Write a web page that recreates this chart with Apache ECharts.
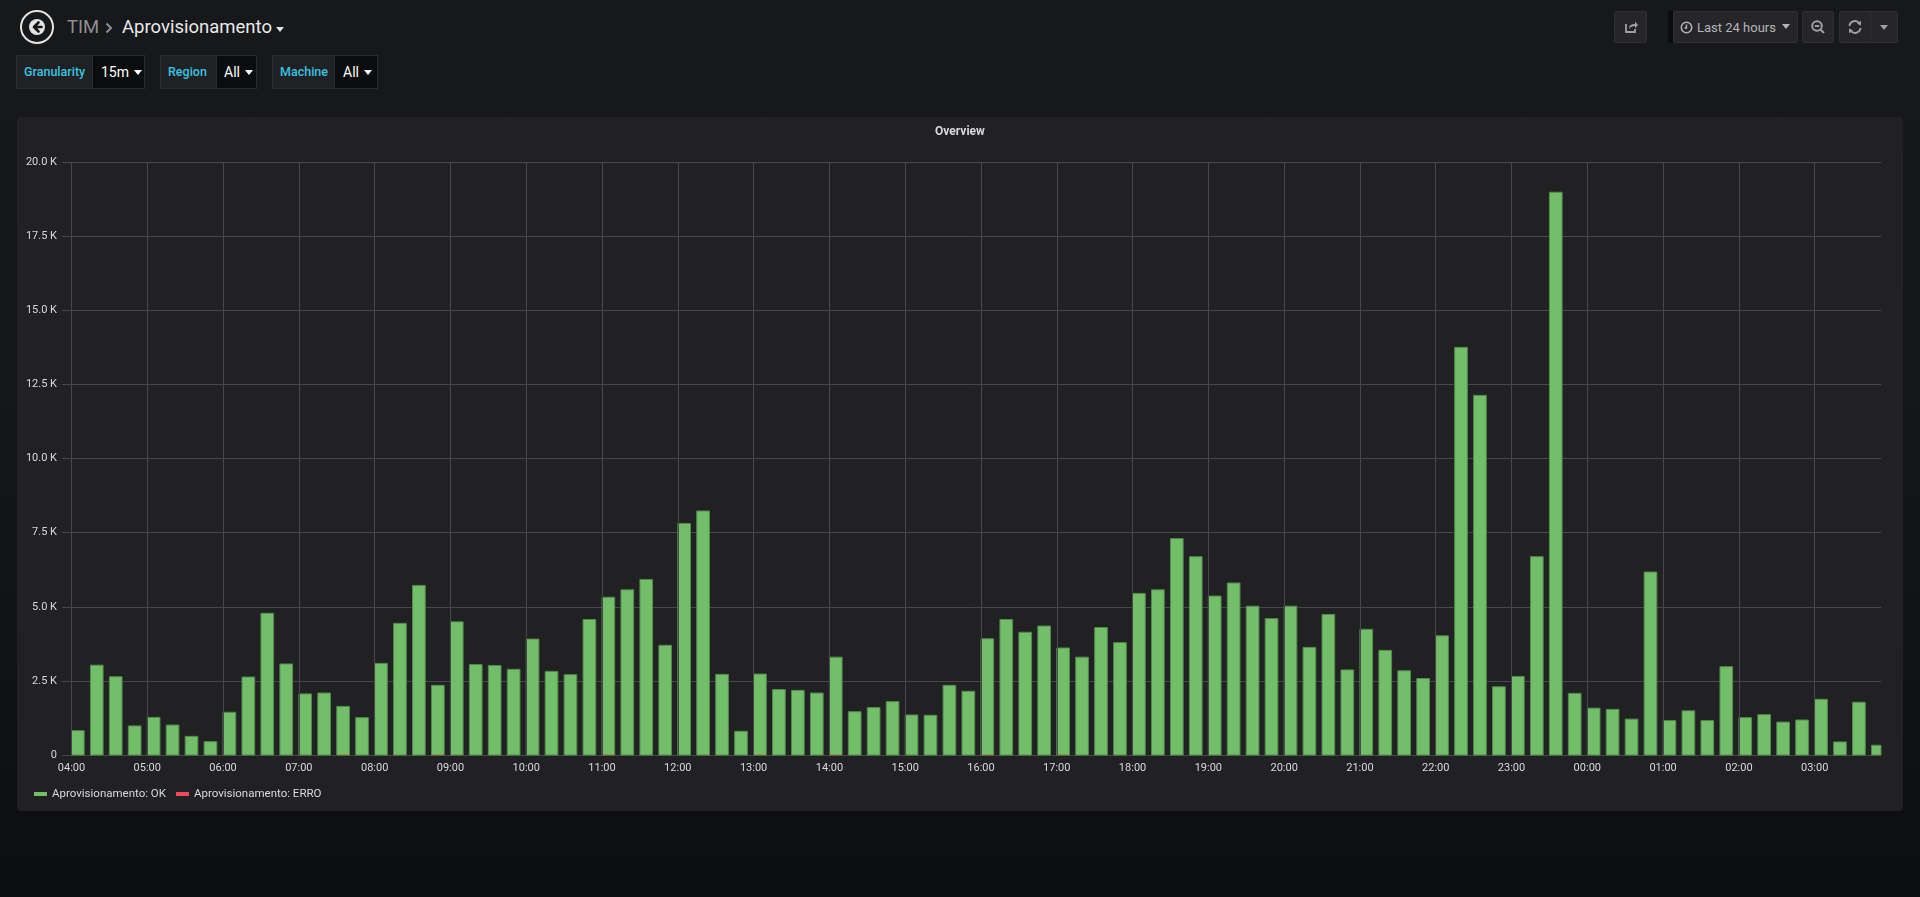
<!DOCTYPE html>
<html>
<head>
<meta charset="utf-8">
<title>TIM - Aprovisionamento</title>
<script src="https://cdn.jsdelivr.net/npm/echarts@6/dist/echarts.min.js"></script>
<style>
  html, body { margin: 0; padding: 0; }
  body {
    width: 1920px; height: 897px; overflow: hidden; position: relative;
    background: linear-gradient(#17181a 0%, #161719 40%, #0d0e10 100%);
    font-family: Roboto, "Noto Sans", Arial, sans-serif;
  }
  .abs { position: absolute; }
  .back { left: 20px; top: 10px; width: 30px; height: 30px; border: 2px solid #e3e3e3; border-radius: 50%; }
  .crumb { top: 14px; font-size: 18.5px; line-height: 26px; }
  .var { top: 55px; height: 34px; display: flex; font-size: 12.5px; line-height: 34px; }
  .var .lbl { background: #202124; border: 1px solid #2a2b2e; border-right: none; color: #36c4e0;
              font-weight: 500; padding: 0 7px; box-sizing: border-box; height: 34px; line-height: 32px; }
  .var .val { background: #0b0c0e; border: 1px solid #2a2b2e; color: #fff; font-size: 14px;
              box-sizing: border-box; height: 34px; line-height: 32px; padding-left: 8px; }
  .caret { display: inline-block; width: 0; height: 0; border-left: 4px solid transparent;
           border-right: 4px solid transparent; border-top: 5px solid currentColor; vertical-align: middle; margin-left: 5px; margin-top: -2px; }
  .btn { top: 11px; height: 32px; background: #262628; border: 1px solid #2e2f32; box-sizing: border-box; border-radius: 2px;
         color: #9fa0a2; display: flex; align-items: center; justify-content: center; }
  #panel { left: 17px; top: 117px; width: 1886px; height: 694px; background: #212124; border-radius: 3px; }
</style>
</head>
<body>
<div class="abs back">
  <svg width="30" height="30" viewBox="0 0 30 30" style="display:block">
    <circle cx="15" cy="15" r="8" fill="#e3e3e3"/>
    <path d="M16.5 10.5 L12 15 L16.5 19.5 M12.5 15 H19.5" stroke="#161719" stroke-width="2.6" fill="none" stroke-linecap="round" stroke-linejoin="round"/>
  </svg>
</div>
<div class="abs crumb" style="left:67px;color:#8e8f91">TIM</div>
<svg class="abs" style="left:104px;top:21px" width="10" height="14" viewBox="0 0 10 14">
  <path d="M2.5 2.5 L7 7 L2.5 11.5" stroke="#8e8f91" stroke-width="2" fill="none"/>
</svg>
<div class="abs crumb" style="left:122px;color:#e9e9ea">Aprovisionamento</div>
<span class="abs caret" style="left:276px;top:27px;color:#e3e3e3;margin:0"></span>

<div class="abs var" style="left:16px">
  <div class="lbl" style="width:76px">Granularity</div>
  <div class="val" style="width:53px">15m<span class="caret"></span></div>
</div>
<div class="abs var" style="left:160px">
  <div class="lbl" style="width:56px">Region</div>
  <div class="val" style="width:41px;padding-left:7px">All<span class="caret"></span></div>
</div>
<div class="abs var" style="left:272px">
  <div class="lbl" style="width:62px">Machine</div>
  <div class="val" style="width:44px;padding-left:8px">All<span class="caret"></span></div>
</div>

<div class="abs btn" style="left:1614px;width:33px">
  <svg width="16" height="16" viewBox="0 0 16 16"><path d="M3 5 V13 H12 V10" stroke="#9fa0a2" stroke-width="1.8" fill="none"/><path d="M6 10 C6 6 9 5 12 5 V2.5 L15 6 L12 9.5 V7 C9.5 7 7.5 7.8 6 10 Z" fill="#9fa0a2"/></svg>
</div>
<div class="abs" style="left:1668px;top:11px;width:5px;height:32px;background:#0b0c0e"></div>
<div class="abs btn" style="left:1673px;width:125px;font-size:13px;color:#b4b5b8;justify-content:flex-start;padding-left:6px">
  <svg width="13" height="13" viewBox="0 0 13 13" style="margin-right:4px"><circle cx="6.5" cy="6.5" r="5.2" stroke="#b4b5b8" stroke-width="1.5" fill="none"/><path d="M6.5 3.5 V7 H4.5" stroke="#b4b5b8" stroke-width="1.4" fill="none"/></svg>
  Last 24 hours<span class="caret" style="margin-left:6px"></span>
</div>
<div class="abs btn" style="left:1802px;width:32px">
  <svg width="16" height="16" viewBox="0 0 16 16"><circle cx="7" cy="7" r="4.8" stroke="#9fa0a2" stroke-width="2" fill="none"/><path d="M4.8 7 H9.2 M10.5 10.5 L14 14" stroke="#9fa0a2" stroke-width="2"/></svg>
</div>
<div class="abs btn" style="left:1839px;width:32px;border-radius:2px 0 0 2px">
  <svg width="16" height="16" viewBox="0 0 16 16"><path d="M2.5 7 A5.5 5.5 0 0 1 12.5 4.5 M13.5 9 A5.5 5.5 0 0 1 3.5 11.5" stroke="#9fa0a2" stroke-width="2" fill="none"/><path d="M10 4.8 L14 1.8 L14 6.5 Z M6 11.2 L2 14.2 L2 9.5 Z" fill="#9fa0a2"/></svg>
</div>
<div class="abs btn" style="left:1870px;width:28px;border-radius:0 2px 2px 0"><span class="caret" style="margin:0"></span></div>

<div id="panel" class="abs"></div>

<script type="text/javascript">
// 15 minute buckets, first one at 04:00
const bucketStart = new Date(2018, 5, 12, 4, 0, 0).getTime();
const bucketMs = 15 * 60 * 1000;
// visible range: last 24 hours ending 03:52:30
const rangeMin = new Date(2018, 5, 12, 3, 52, 30).getTime();
const rangeMax = new Date(2018, 5, 13, 3, 52, 30).getTime();
const hourCount = 24;

const okValues = [
  820, 3030, 2640, 980, 1270, 1010, 630, 450,
  1440, 2630, 4780, 3070, 2060, 2090, 1640, 1260,
  3090, 4440, 5720, 2350, 4490, 3050, 3020, 2890,
  3910, 2820, 2710, 4570, 5320, 5570, 5920, 3700,
  7810, 8230, 2720, 800, 2730, 2210, 2180, 2090,
  3300, 1460, 1600, 1800, 1350, 1340, 2350, 2150,
  3920, 4570, 4140, 4350, 3610, 3300, 4300, 3790,
  5450, 5570, 7300, 6690, 5360, 5800, 5020, 4600,
  5020, 3630, 4740, 2870, 4240, 3530, 2840, 2580,
  4020, 13750, 12130, 2300, 2650, 6690, 18980, 2080,
  1580, 1540, 1210, 6170, 1160, 1490, 1160, 2980,
  1260, 1360, 1110, 1180, 1880, 440, 1780, 330
];
const erroValues = [
  0, 0, 0, 0, 0, 0, 0, 0,
  0, 0, 0, 0, 0, 0, 15, 0,
  0, 0, 0, 15, 0, 0, 0, 0,
  0, 0, 0, 0, 15, 0, 0, 0,
  0, 0, 0, 0, 15, 0, 0, 0,
  15, 0, 0, 0, 0, 0, 0, 0,
  15, 0, 0, 0, 15, 0, 0, 0,
  0, 0, 0, 0, 0, 0, 0, 0,
  0, 0, 0, 0, 0, 0, 0, 0,
  0, 0, 0, 0, 0, 0, 0, 0,
  0, 0, 0, 0, 0, 0, 0, 0,
  0, 0, 0, 0, 0, 0, 0, 0
];
const seriesNames = ['Aprovisionamento: OK', 'Aprovisionamento: ERRO'];
const yTicks = { min: 0, max: 20000, step: 2500 };

function toPoints(values) {
  return values.map((v, i) => [bucketStart + i * bucketMs, v]);
}

function pad(n) { return n < 10 ? '0' + n : '' + n; }

// vertical grid lines on each full hour (time axis would also put them on the range ends)
const hourLines = [];
for (let h = 0; h < hourCount; h++) {
  hourLines.push({ xAxis: bucketStart + h * 3600 * 1000 });
}

// grafana draws a bucket's bar starting at its timestamp
function makeRender(fill, stroke) {
  return function (params, api) {
    const t = api.value(0);
    const v = api.value(1);
    if (!v) return;
    const base = api.coord([t, 0]);
    const top = api.coord([t, v]);
    const w = api.size([bucketMs, 0])[0] * 0.67;
    const shape = echarts.graphic.clipRectByRect(
      { x: base[0], y: top[1], width: w, height: base[1] - top[1] },
      { x: params.coordSys.x, y: params.coordSys.y, width: params.coordSys.width, height: params.coordSys.height }
    );
    if (!shape) return;
    return { type: 'rect', shape: shape, style: { fill: fill, stroke: stroke, lineWidth: stroke ? 1 : 0 } };
  };
}

var myChart = echarts.init(document.getElementById('panel'));

var option = {
  backgroundColor: 'transparent',
  animation: false,
  textStyle: { fontFamily: 'Roboto, "Noto Sans", sans-serif' },
  title: {
    text: 'Overview', left: 'center', top: 4,
    textStyle: { color: '#d8d9da', fontSize: 12, fontWeight: 'bold' }
  },
  grid: { left: 45, right: 22, top: 45, bottom: 56 },
  legend: {
    left: 12, top: 666, icon: 'rect', itemWidth: 13, itemHeight: 4, itemGap: 10,
    textStyle: { color: '#d8d9da', fontSize: 11.5 },
    data: [
      { name: seriesNames[0], itemStyle: { color: '#73bf69' } },
      { name: seriesNames[1], itemStyle: { color: '#f2495c' } }
    ]
  },
  xAxis: {
    type: 'time',
    min: rangeMin,
    max: rangeMax,
    minInterval: 3600 * 1000,
    maxInterval: 3600 * 1000,
    axisLine: { show: false },
    axisTick: { show: false },
    splitLine: { show: false },
    axisLabel: {
      color: '#d8d9da', fontSize: 11, margin: 8,
      showMinLabel: false, showMaxLabel: false,
      formatter: function (val) {
        const d = new Date(val);
        if (d.getMinutes() !== 0 || d.getSeconds() !== 0) return '';
        return pad(d.getHours()) + ':00';
      }
    }
  },
  yAxis: {
    type: 'value',
    min: yTicks.min,
    max: yTicks.max,
    interval: yTicks.step,
    axisLine: { show: false },
    axisTick: { show: false },
    splitLine: { show: true, lineStyle: { color: '#48484b', width: 1 } },
    axisLabel: {
      color: '#d8d9da', fontSize: 11, margin: 5,
      formatter: function (v) { return v === 0 ? '0' : (v / 1000).toFixed(1) + ' K'; }
    }
  },
  series: [
    {
      name: 'grid-hours', type: 'line', data: [], z: 0, silent: true,
      markLine: {
        silent: true, symbol: 'none', animation: false,
        label: { show: false },
        emphasis: { disabled: true },
        lineStyle: { color: '#48484b', width: 1, type: 'solid' },
        data: hourLines
      }
    },
    {
      name: seriesNames[0], type: 'custom', z: 2,
      itemStyle: { color: '#73bf69' },
      renderItem: makeRender('#73bf69', '#528a4b'),
      encode: { x: 0, y: 1 },
      data: toPoints(okValues)
    },
    {
      name: seriesNames[1], type: 'custom', z: 3,
      itemStyle: { color: '#f2495c' },
      renderItem: makeRender('#e0752d', null),
      encode: { x: 0, y: 1 },
      data: toPoints(erroValues)
    }
  ]
};

myChart.setOption(option);
</script>
</body>
</html>
